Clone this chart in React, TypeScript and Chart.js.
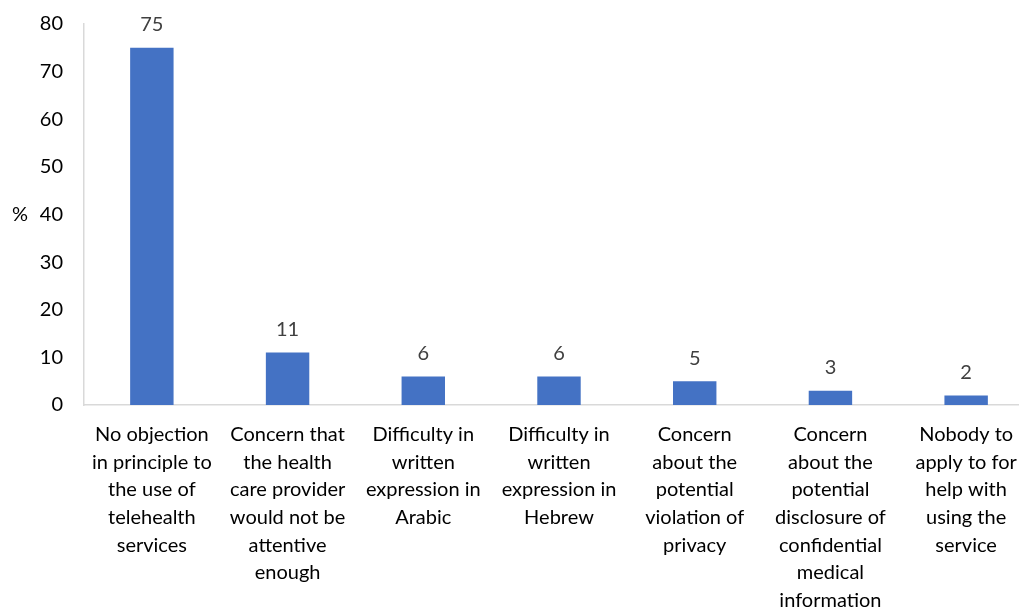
import React, { useEffect, useRef } from "react";
import { Chart, registerables } from "chart.js";

Chart.register(...registerables);

const categories: string[][] = [
  ["No objection", "in principle to", "the use of", "telehealth", "services"],
  ["Concern that", "the health", "care provider", "would not be", "attentive", "enough"],
  ["Difficulty in", "written", "expression in", "Arabic"],
  ["Difficulty in", "written", "expression in", "Hebrew"],
  ["Concern", "about the", "potential", "violation of", "privacy"],
  ["Concern", "about the", "potential", "disclosure of", "confidential", "medical", "information"],
  ["Nobody to", "apply to for", "help with", "using the", "service"],
];
const values: number[] = [75, 11, 6, 6, 5, 3, 2];
const yTicks: number[] = [0, 10, 20, 30, 40, 50, 60, 70, 80];
const yTitle = "%";

const FONT = "Lato, 'Liberation Sans', sans-serif";

const extrasPlugin = {
  id: "extras",
  afterDatasetsDraw(chart: any) {
    const ctx = chart.ctx;
    const meta = chart.getDatasetMeta(0);
    ctx.save();
    ctx.font = `20px ${FONT}`;
    ctx.fillStyle = "#404040";
    ctx.textAlign = "center";
    ctx.textBaseline = "middle";
    meta.data.forEach((bar: any, i: number) => {
      ctx.fillText(String(values[i]), bar.x, bar.y - 23);
    });
    ctx.fillStyle = "#000000";
    const ca = chart.chartArea;
    ctx.fillText(yTitle, 20, (ca.top + ca.bottom) / 2);
    ctx.restore();
  },
};

export default function App() {
  const ref = useRef<HTMLCanvasElement>(null);
  useEffect(() => {
    document.body.style.overflow = "hidden";
    const chart = new Chart(ref.current!, {
      type: "bar",
      data: {
        labels: categories,
        datasets: [
          {
            data: values,
            backgroundColor: "#4472C4",
            barPercentage: 0.32,
            categoryPercentage: 1,
          },
        ],
      },
      options: {
        responsive: false,
        animation: false,
        layout: { padding: { top: 24, left: 0, right: 0, bottom: 0 } },
        plugins: { legend: { display: false }, tooltip: { enabled: false } },
        scales: {
          x: {
            grid: { display: false, drawTicks: false },
            border: { display: true, color: "#d9d9d9", width: 1.5 },
            ticks: {
              color: "#000000",
              font: { family: FONT, size: 20, lineHeight: 1.38 },
              padding: 16,
              maxRotation: 0,
              autoSkip: false,
            },
            afterFit: (s: any) => {
              s.height = 225;
              s.paddingLeft = 0;
              s.paddingRight = 0;
            },
          },
          y: {
            min: 0,
            max: 80,
            afterBuildTicks: (s: any) => {
              s.ticks = yTicks.map((v) => ({ value: v }));
            },
            grid: { display: false, drawTicks: false },
            border: { display: true, color: "#d9d9d9", width: 1.5 },
            ticks: {
              color: "#000000",
              font: { family: FONT, size: 20 },
              padding: 21,
            },
            afterFit: (s: any) => {
              s.width = 84;
              s.paddingTop = 0;
              s.paddingBottom = 0;
            },
          },
        },
      },
      plugins: [extrasPlugin],
    });
    return () => chart.destroy();
  }, []);
  return (
    <div
      style={{
        position: "fixed",
        left: 0,
        top: 0,
        width: 1019,
        height: 609,
        overflow: "hidden",
        background: "#ffffff",
      }}
    >
      <canvas ref={ref} width={1034} height={630} style={{ display: "block" }} />
    </div>
  );
}
